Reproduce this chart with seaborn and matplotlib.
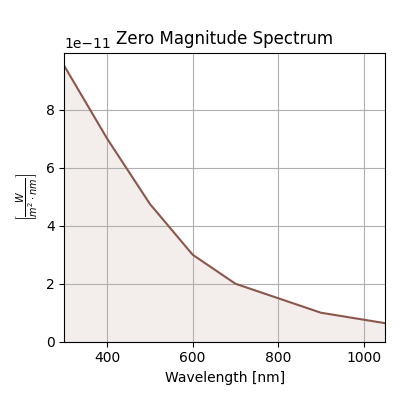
import numpy as np
import pandas as pd
import matplotlib
matplotlib.use("Agg")
import matplotlib.pyplot as plt
import seaborn as sns

wavelength = [300, 400, 500, 600, 700, 800, 900, 1000, 1050]
flux = [9.5e-11, 7.0e-11, 4.75e-11, 3.0e-11, 2.0e-11, 1.5e-11, 1.0e-11, 0.76e-11, 0.64e-11]

df = pd.DataFrame({'Wavelength': wavelength, 'Flux': flux})

fig, ax = plt.subplots(figsize=(4, 4), dpi=100)

sns.lineplot(data=df, x='Wavelength', y='Flux', color='tab:brown', ax=ax)
ax.fill_between(df['Wavelength'], df['Flux'], 0, color='tab:brown', alpha=0.1, linewidth=0)

ax.set_xlim(300, 1050)
ax.set_ylim(0, 9.975e-11)
ax.grid(True)
ax.set_title("Zero Magnitude Spectrum")
ax.set_xlabel("Wavelength [nm]")
ax.set_ylabel(r'$\left[\frac{W}{m^2 \cdot nm}\right]$')

plt.tight_layout()
plt.savefig("out.png")
